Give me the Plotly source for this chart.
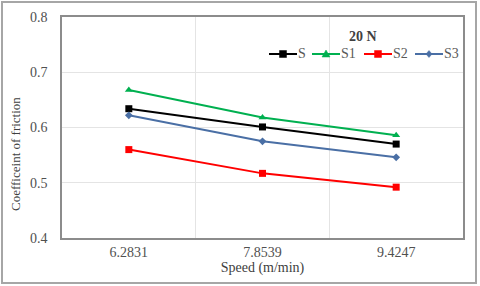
import plotly.graph_objects as go

speeds = ["6.2831", "7.8539", "9.4247"]
s_vals = [0.634, 0.601, 0.570]
s1_vals = [0.668, 0.618, 0.586]
s2_vals = [0.560, 0.517, 0.492]
s3_vals = [0.622, 0.575, 0.546]
y_ticks = [0.4, 0.5, 0.6, 0.7, 0.8]

FONT = "Liberation Serif"
fig = go.Figure()
series = [
    ("S", s_vals, "#000000", "square", 7),
    ("S1", s1_vals, "#00b050", "triangle-up", 7),
    ("S2", s2_vals, "#ff0000", "square", 7),
    ("S3", s3_vals, "#4a6fa5", "diamond", 6),
]
for name, vals, col, sym, sz in series:
    fig.add_trace(go.Scatter(x=speeds, y=vals, name=name, mode="lines+markers",
                             line=dict(color=col, width=2), showlegend=False,
                             marker=dict(symbol=sym, size=sz, color=col)))

L, R, T, B = 62, 17, 17, 48
W, H = 480, 286
pw, ph = W - L - R, H - T - B

def px(x):
    return (x - L) / pw

def py(y):
    return (H - B - y) / ph

shapes = [dict(type="rect", xref="paper", yref="paper",
               x0=px(2), x1=px(476), y0=py(283), y1=py(2),
               line=dict(color="#a6a6a6", width=2), layer="below")]
annotations = [dict(text="Coefficeint of friction", xref="paper", yref="paper",
                    x=px(15), y=py(154), textangle=-90, showarrow=False,
                    xanchor="center", yanchor="middle",
                    font=dict(family=FONT, size=13, color="#404040")),
               dict(text="<b>20 N</b>", xref="paper", yref="paper",
                    x=px(363), y=py(36), showarrow=False,
                    xanchor="center", yanchor="middle",
                    font=dict(family=FONT, size=14, color="#404040"))]

# manual legend (decoration)
leg_x = [269, 312, 364, 415]
leg_y = 54
for (name, vals, col, sym, sz), x0 in zip(series, leg_x):
    x1 = x0 + 28
    cx = (x0 + x1) / 2
    shapes.append(dict(type="line", xref="paper", yref="paper",
                       x0=px(x0), x1=px(x1), y0=py(leg_y), y1=py(leg_y),
                       line=dict(color=col, width=2)))
    if sym == "square":
        h = 3.5
        path = (f"M{px(cx-h)},{py(leg_y-h)} L{px(cx+h)},{py(leg_y-h)} "
                f"L{px(cx+h)},{py(leg_y+h)} L{px(cx-h)},{py(leg_y+h)} Z")
    elif sym == "triangle-up":
        path = (f"M{px(cx)},{py(leg_y-4)} L{px(cx+4)},{py(leg_y+3)} "
                f"L{px(cx-4)},{py(leg_y+3)} Z")
    else:
        path = (f"M{px(cx)},{py(leg_y-3.5)} L{px(cx+3)},{py(leg_y)} "
                f"L{px(cx)},{py(leg_y+3.5)} L{px(cx-3)},{py(leg_y)} Z")
    shapes.append(dict(type="path", xref="paper", yref="paper", path=path,
                       fillcolor=col, line=dict(color=col, width=0.5)))
    annotations.append(dict(text=name, xref="paper", yref="paper",
                            x=px(x1 + 0.5), y=py(leg_y), showarrow=False,
                            xanchor="left", yanchor="middle", xshift=-2,
                            font=dict(family=FONT, size=14, color="#595959")))

fig.update_layout(
    width=W, height=H,
    margin=dict(l=L, r=R, t=T, b=B, autoexpand=False),
    paper_bgcolor="white", plot_bgcolor="white",
    font=dict(family=FONT, size=13, color="#595959"),
    showlegend=False,
    xaxis=dict(type="category", range=[-0.5, 2.5], tickson="boundaries",
               showgrid=True, gridcolor="#e4e4e4", gridwidth=1,
               showline=True, linecolor="#8c8c8c", linewidth=1.5, mirror=True,
               ticks="", tickfont=dict(family=FONT, size=14, color="#505050"),
               title=dict(text="Speed (m/min)", standoff=2,
                          font=dict(family=FONT, size=14, color="#404040"))),
    yaxis=dict(range=[0.4, 0.8], tickvals=y_ticks, tickformat=".1f",
               showgrid=True, gridcolor="#e4e4e4", gridwidth=1,
               showline=True, linecolor="#8c8c8c", linewidth=1.5, mirror=True,
               ticks="", ticklabelstandoff=10, zeroline=False,
               tickfont=dict(family=FONT, size=14, color="#505050")),
    shapes=shapes,
    annotations=annotations,
)

fig.write_html("out.html", config={"displayModeBar": False},
               post_script="document.body.style.margin='0';")
